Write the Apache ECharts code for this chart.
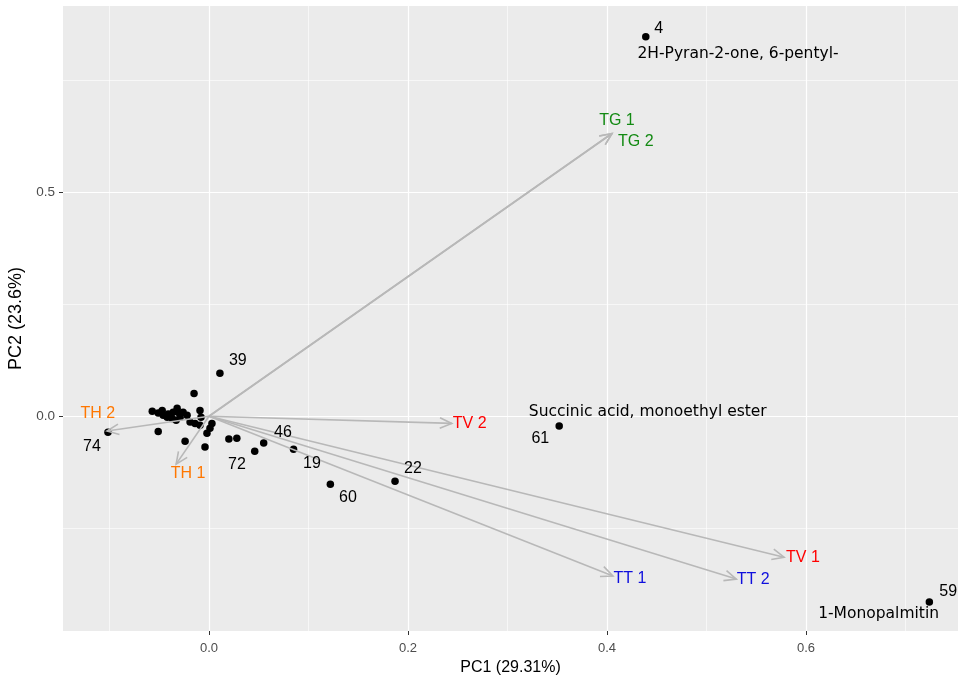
<!doctype html>
<html>
<head>
    <meta charset="UTF-8">
    <title>PCA biplot</title>
    <script src="https://cdn.jsdelivr.net/npm/echarts@6/dist/echarts.min.js"></script>
    <style>
        html, body { margin: 0; padding: 0; background: #fff; }
        #main { width: 959px; height: 678px; }
    </style>
</head>
<body>
<div id="main"></div>
<script type="text/javascript">
    // scores (PC1, PC2)
    var scoreX = [0.439, 0.011, 0.352, 0.724, -0.1015, 0.055, 0.085, 0.122, 0.187, 0.028, 0.046, 0.020,
        -0.015, -0.057, -0.051, -0.046, -0.041, -0.036, -0.032, -0.030, -0.026, -0.022, -0.037, -0.042,
        -0.047, -0.029, -0.033, -0.009, -0.008, -0.019, -0.014, -0.009, 0.003, 0.001, -0.002, -0.051,
        -0.024, -0.004];
    var scoreY = [0.848, 0.096, -0.022, -0.415, -0.036, -0.060, -0.074, -0.152, -0.145, -0.049, -0.078, -0.051,
        0.051, 0.011, 0.007, 0.002, 0.005, 0.009, 0.018, 0.007, 0.009, 0.002, -0.005, -0.002,
        0.013, -0.002, -0.009, 0.013, -0.002, -0.013, -0.016, -0.020, -0.016, -0.027, -0.038, -0.034,
        -0.056, -0.069];

    // point number labels
    var idText = ['4', '39', '61', '59', '74', '46', '19', '60', '22', '72'];
    var idX = [0.452, 0.029, 0.333, 0.743, -0.1176, 0.0744, 0.1035, 0.1397, 0.205, 0.0281];
    var idY = [0.866, 0.125, -0.049, -0.391, -0.067, -0.036, -0.105, -0.181, -0.118, -0.107];

    // compound names
    var nameText = ['2H-Pyran-2-one, 6-pentyl-', 'Succinic acid, monoethyl ester', '1-Monopalmitin'];
    var nameX = [0.5317, 0.441, 0.673];
    var nameY = [0.810, 0.009, -0.442];

    // loadings
    var loadName = ['TG 1', 'TG 2', 'TV 2', 'TV 1', 'TT 1', 'TT 2', 'TH 2', 'TH 1'];
    var loadX = [0.405, 0.405, 0.244, 0.578, 0.406, 0.530, -0.1025, -0.033];
    var loadY = [0.632, 0.632, -0.016, -0.315, -0.357, -0.364, -0.033, -0.107];
    var loadLabelX = [0.410, 0.429, 0.262, 0.597, 0.423, 0.547, -0.1116, -0.021];
    var loadLabelY = [0.661, 0.614, -0.016, -0.317, -0.362, -0.364, 0.007, -0.129];

    var xTicks = [0, 0.2, 0.4, 0.6];
    var xMinor = [-0.1, 0.1, 0.3, 0.5, 0.7];
    var yTicks = [0, 0.5];
    var yMinor = [-0.25, 0.25, 0.75];

    var groupColor = {TG: '#138A13', TV: '#FF0000', TT: '#0F0FDD', TH: '#FF7700'};
    var font = 'Liberation Sans, Arial, sans-serif';

    var scores = [];
    for (var i = 0; i < scoreX.length; i++) {
        scores.push([scoreX[i], scoreY[i]]);
    }
    var ids = [];
    for (var i = 0; i < idText.length; i++) {
        ids.push({value: [idX[i], idY[i]], name: idText[i]});
    }
    var names = [];
    for (var i = 0; i < nameText.length; i++) {
        names.push({value: [nameX[i], nameY[i]], name: nameText[i]});
    }
    var arrows = [];
    var loadLabels = [];
    for (var i = 0; i < loadName.length; i++) {
        arrows.push([loadX[i], loadY[i]]);
        loadLabels.push({
            value: [loadLabelX[i], loadLabelY[i]],
            name: loadName[i],
            label: {color: groupColor[loadName[i].substring(0, 2)]}
        });
    }

    function renderArrow(params, api) {
        var o = api.coord([0, 0]);
        var p = api.coord([api.value(0), api.value(1)]);
        var a = Math.atan2(p[1] - o[1], p[0] - o[0]);
        var len = 13, spread = 0.42;
        var h1 = [p[0] - len * Math.cos(a - spread), p[1] - len * Math.sin(a - spread)];
        var h2 = [p[0] - len * Math.cos(a + spread), p[1] - len * Math.sin(a + spread)];
        var style = {stroke: '#B8B8B8', lineWidth: 1.6, fill: null};
        return {
            type: 'group',
            children: [
                {type: 'line', shape: {x1: o[0], y1: o[1], x2: p[0], y2: p[1]}, style: style},
                {type: 'polyline', shape: {points: [h1, p, h2]}, style: style}
            ]
        };
    }

    var textSeries = {type: 'scatter', symbolSize: 0, z: 4, itemStyle: {opacity: 1}, silent: true};

    var myChart = echarts.init(document.getElementById('main'));
    var option = {
        animation: false,
        backgroundColor: '#FFFFFF',
        grid: {
            left: 63, right: 1, top: 6, bottom: 47,
            outerBoundsMode: 'none', containLabel: false,
            show: true, backgroundColor: '#EBEBEB', borderWidth: 0
        },
        xAxis: [
            {
                type: 'value', min: -0.1467, max: 0.7528,
                name: 'PC1 (29.31%)', nameLocation: 'middle', nameGap: 28,
                nameTextStyle: {color: '#000', fontSize: 16, fontFamily: font},
                axisLine: {show: false, onZero: false},
                axisTick: {show: true, length: 4, customValues: xTicks, lineStyle: {color: '#333', width: 1}},
                axisLabel: {customValues: xTicks, color: '#4D4D4D', fontSize: 13, fontFamily: font, margin: 11,
                    formatter: function (v) { return v.toFixed(1); }},
                splitLine: {show: true, lineStyle: {color: '#FFFFFF', width: 1.2}}
            },
            {
                type: 'value', min: -0.1467, max: 0.7528, position: 'bottom',
                axisLine: {show: false, onZero: false},
                axisTick: {show: false, customValues: xMinor},
                axisLabel: {show: false, customValues: xMinor},
                splitLine: {show: true, lineStyle: {color: '#FFFFFF', width: 0.6}}
            }
        ],
        yAxis: [
            {
                type: 'value', min: -0.48, max: 0.917,
                name: 'PC2 (23.6%)', nameLocation: 'middle', nameGap: 35, nameRotate: 90,
                nameTextStyle: {color: '#000', fontSize: 18, fontFamily: font},
                axisLine: {show: false, onZero: false},
                axisTick: {show: true, length: 4, customValues: yTicks, lineStyle: {color: '#333', width: 1}},
                axisLabel: {customValues: yTicks, color: '#4D4D4D', fontSize: 13.5, fontFamily: font, margin: 8,
                    formatter: function (v) { return v.toFixed(1); }},
                splitLine: {show: true, lineStyle: {color: '#FFFFFF', width: 1.2}}
            },
            {
                type: 'value', min: -0.48, max: 0.917, position: 'left',
                axisLine: {show: false, onZero: false},
                axisTick: {show: false, customValues: yMinor},
                axisLabel: {show: false, customValues: yMinor},
                splitLine: {show: true, lineStyle: {color: '#FFFFFF', width: 0.6}}
            }
        ],
        series: [
            {
                name: 'scores', type: 'scatter', data: scores,
                symbolSize: 7.5, itemStyle: {color: '#000', opacity: 1}
            },
            {
                name: 'loadings', type: 'custom', data: arrows,
                renderItem: renderArrow, z: 3, silent: true
            },
            echarts.util.merge({
                name: 'ids', data: ids,
                label: {show: true, position: 'inside', formatter: '{b}', color: '#000',
                    fontSize: 16, fontFamily: font}
            }, textSeries),
            echarts.util.merge({
                name: 'names', data: names,
                label: {show: true, position: 'inside', formatter: '{b}', color: '#000',
                    fontSize: 15.5, fontFamily: 'DejaVu Sans, sans-serif'}
            }, textSeries),
            echarts.util.merge({
                name: 'loadLabels', data: loadLabels,
                label: {show: true, position: 'inside', formatter: '{b}',
                    fontSize: 16, fontFamily: font}
            }, textSeries)
        ]
    };
    myChart.setOption(option);
</script>
</body>
</html>
